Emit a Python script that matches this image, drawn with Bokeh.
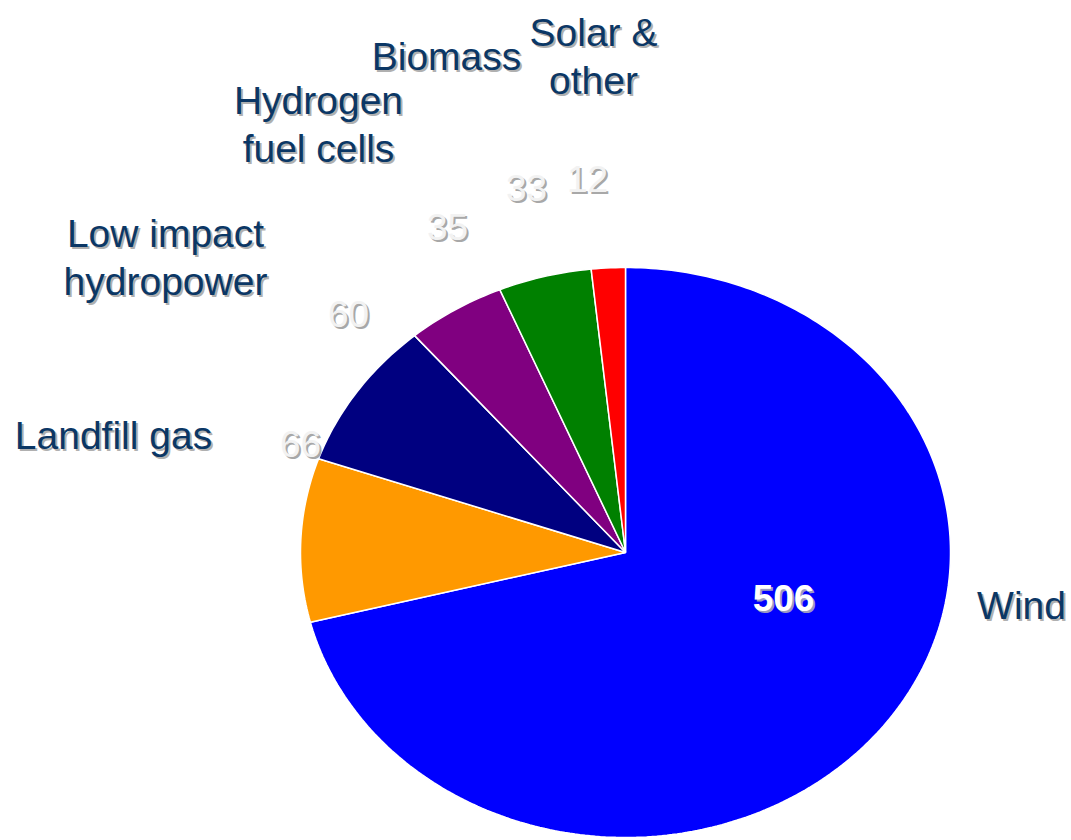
import numpy as np
from bokeh.plotting import figure
from bokeh.models import Range1d, ColumnDataSource
from bokeh.core.properties import value
from bokeh.embed import file_html
from bokeh.resources import INLINE

# Renewable capacity by source
categories = ["Wind", "Landfill gas", "Low impact hydropower",
              "Hydrogen fuel cells", "Biomass", "Solar & other"]
amounts = [506, 66, 60, 35, 33, 12]
colors = ["#0000FF", "#FF9900", "#000080", "#800080", "#008000", "#FF0000"]

# Label layout (screen-like coordinates, y grows downward)
name_lines = [["Wind"], ["Landfill gas"], ["Low impact", "hydropower"],
              ["Hydrogen", "fuel cells"], ["Biomass"], ["Solar &", "other"]]
name_pos = [(1021, 605), (113, 435), (165, 233), (318, 100), (446, 56), (593, 32)]
value_pos = [(783, 597), (300, 443), (348, 313), (447, 226), (526, 187), (587, 178)]

W, H = 1071, 840
cx, cy, rx, ry = 625.0, 552.0, 325.0, 285.0
FONT = "Liberation Sans Narrow, Arial Narrow, Liberation Sans, sans-serif"
LINE_GAP = 48

p = figure(width=W, height=H, output_backend="svg", toolbar_location=None,
           x_range=Range1d(0, W), y_range=Range1d(H, 0), min_border=0)
p.axis.visible = False
p.grid.visible = False
p.outline_line_color = None
p.background_fill_color = "white"
p.border_fill_color = "white"

# Slices start at 12 o'clock and run clockwise
total = float(sum(amounts))
xs, ys = [], []
start = np.pi / 2
for a in amounts:
    sweep = 2 * np.pi * a / total
    n = max(8, int(a / total * 400))
    t = np.linspace(start, start - sweep, n)
    xs.append([cx] + list(cx + rx * np.cos(t)))
    ys.append([cy] + list(cy - ry * np.sin(t)))
    start -= sweep

p.patches(xs=xs, ys=ys, fill_color=colors, line_color="white", line_width=1.5)

# Category names with drop shadow
tx, ty, tt = [], [], []
for lines, (x0, y0) in zip(name_lines, name_pos):
    for i, ln in enumerate(lines):
        tx.append(x0)
        ty.append(y0 + i * LINE_GAP)
        tt.append(ln)
shadow = ColumnDataSource(dict(x=[v + 2 for v in tx], y=[v + 2 for v in ty], text=tt))
main = ColumnDataSource(dict(x=tx, y=ty, text=tt))
for src, col in ((shadow, "#B0B0B0"), (main, "#0B3765")):
    p.text(x="x", y="y", text="text", source=src, text_color=col,
           text_font=value(FONT), text_font_size="39px",
           text_align="center", text_baseline="middle")

# Value labels
vx = [q[0] for q in value_pos]
vy = [q[1] for q in value_pos]
vt = [str(a) for a in amounts]
p.text(x=[v + 2 for v in vx[1:]], y=[v + 2 for v in vy[1:]], text=vt[1:],
       text_color="#A8A8A8", text_font=value(FONT), text_font_size="37px",
       text_align="center", text_baseline="middle")
p.text(x=vx[1:], y=vy[1:], text=vt[1:],
       text_color="#F2F2F2", text_font=value(FONT), text_font_size="37px",
       text_align="center", text_baseline="middle")
p.text(x=[vx[0] + 2], y=[vy[0] + 2], text=[vt[0]],
       text_color="#9A9AC0", text_font=value(FONT), text_font_size="37px",
       text_font_style="bold", text_align="center", text_baseline="middle")
p.text(x=[vx[0]], y=[vy[0]], text=[vt[0]],
       text_color="white", text_font=value(FONT), text_font_size="37px",
       text_font_style="bold", text_align="center", text_baseline="middle")

open("out.html", "w").write(file_html(p, INLINE))
